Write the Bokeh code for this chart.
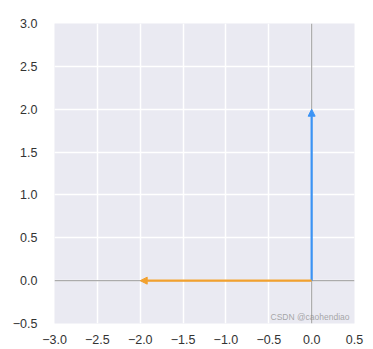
from bokeh.plotting import figure
from bokeh.models import Arrow, NormalHead, Span, FixedTicker, Range1d, Label
from bokeh.embed import file_html
from bokeh.resources import INLINE

# data
vec_names = ["v1", "v2"]
vec_x = [0.0, -2.0]
vec_y = [2.0, 0.0]
vec_colors = ["#3B93F5", "#F2A12E"]
x_ticks = [-3.0, -2.5, -2.0, -1.5, -1.0, -0.5, 0.0, 0.5]
y_ticks = [-0.5, 0.0, 0.5, 1.0, 1.5, 2.0, 2.5, 3.0]
watermark = "CSDN @caohendiao"

def fmt(v):
    s = f"{abs(v):.1f}"
    return ("\u2212" + s) if v < 0 else s

p = figure(width=373, height=349, output_backend="svg", toolbar_location=None,
           x_range=Range1d(-3, 0.5), y_range=Range1d(-0.5, 3),
           min_border_left=54, min_border_right=19, min_border_top=23, min_border_bottom=26,
           frame_width=300, frame_height=300)
p.background_fill_color = "#EAEAF2"
p.border_fill_color = "white"
p.outline_line_color = None

for ax in (p.xaxis[0], p.yaxis[0]):
    ax.axis_line_color = None
    ax.major_tick_line_color = None
    ax.minor_tick_line_color = None
    ax.major_label_text_font = "Liberation Sans"
    ax.major_label_text_font_size = "12.5px"
    ax.major_label_text_color = "#333333"

p.xaxis.ticker = FixedTicker(ticks=x_ticks)
p.yaxis.ticker = FixedTicker(ticks=y_ticks)
p.xaxis.major_label_overrides = {t: fmt(t) for t in x_ticks}
p.yaxis.major_label_overrides = {t: fmt(t) for t in y_ticks}
p.xaxis.major_label_standoff = 5
p.yaxis.major_label_standoff = 11

p.grid.grid_line_color = "white"
p.grid.grid_line_width = 1.5

p.add_layout(Span(location=0, dimension="width", line_color="#ABABAB", line_width=1.2))
p.add_layout(Span(location=0, dimension="height", line_color="#ABABAB", line_width=1.2))

for vx, vy, c in zip(vec_x, vec_y, vec_colors):
    p.add_layout(Arrow(x_start=0, y_start=0, x_end=vx, y_end=vy,
                       line_color=c, line_width=2.2,
                       end=NormalHead(size=7, fill_color=c, line_color=c, line_width=1)))

# watermark (kept inside the frame, bottom right)
p.add_layout(Label(x=-0.48, y=-0.48, text=watermark,
                   text_font="Liberation Sans", text_font_size="8.5px",
                   text_color="#8C8C8C", text_alpha=0.75))

open("out.html", "w").write(file_html(p, INLINE))
